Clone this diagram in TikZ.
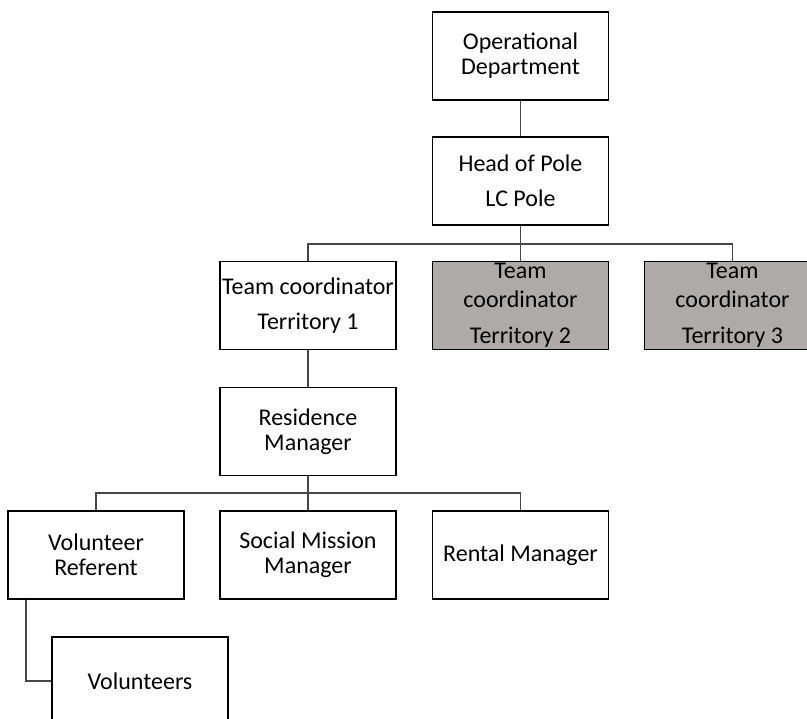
\documentclass[tikz,border=0pt]{standalone}
\usepackage{fontspec}
\setmainfont{Carlito}
\definecolor{boxgray}{RGB}{174,170,170}
\definecolor{linegray}{RGB}{70,70,70}
\begin{document}
\begin{tikzpicture}[x=1pt,y=-1pt,
  orgbox/.style={draw=black,line width=1.3pt,minimum width=176pt,minimum height=88pt,
    inner sep=0pt,align=center,font=\fontsize{24}{25}\selectfont,text=black},
  graybox/.style={orgbox,fill=boxgray},
  conn/.style={draw=linegray,line width=1.2pt}]
\clip (0,0) rectangle (807,719);
\fill[white] (0,0) rectangle (807,719);
\node[orgbox] (op) at (520.5,56) {Operational\\Department};
\node[orgbox] (head) at (520.5,181) {Head of Pole\\[10pt]LC Pole};
\node[orgbox] (t1) at (308,305.5) {Team coordinator\\[10pt]Territory 1};
\node[graybox] (t2) at (520.5,305.5) {Team\\[4pt]coordinator\\[11pt]Territory 2};
\node[graybox] (t3) at (732.5,305.5) {Team\\[4pt]coordinator\\[11pt]Territory 3};
\node[orgbox] (res) at (308,431.5) {Residence\\Manager};
\node[orgbox] (vr) at (96,555) {Volunteer\\Referent};
\node[orgbox] (sm) at (308,555) {Social Mission\\Manager};
\node[orgbox] (rm) at (520.5,555) {Rental Manager};
\node[orgbox] (vol) at (140,681) {Volunteers};
\coordinate (b1) at (520.5,244);
\coordinate (b2) at (308,493);
\draw[conn] (op.south) -- (head.north);
\draw[conn] (head.south) -- (t2.north);
\draw[conn] (t1.north) -- (t1.north |- b1) -- (t3.north |- b1) -- (t3.north);
\draw[conn] (t1.south) -- (res.north);
\draw[conn] (res.south) -- (sm.north);
\draw[conn] (vr.north) -- (vr.north |- b2) -- (rm.north |- b2) -- (rm.north);
\draw[conn] ([xshift=-70pt]vr.south) |- (vol.west);
\end{tikzpicture}
\end{document}
